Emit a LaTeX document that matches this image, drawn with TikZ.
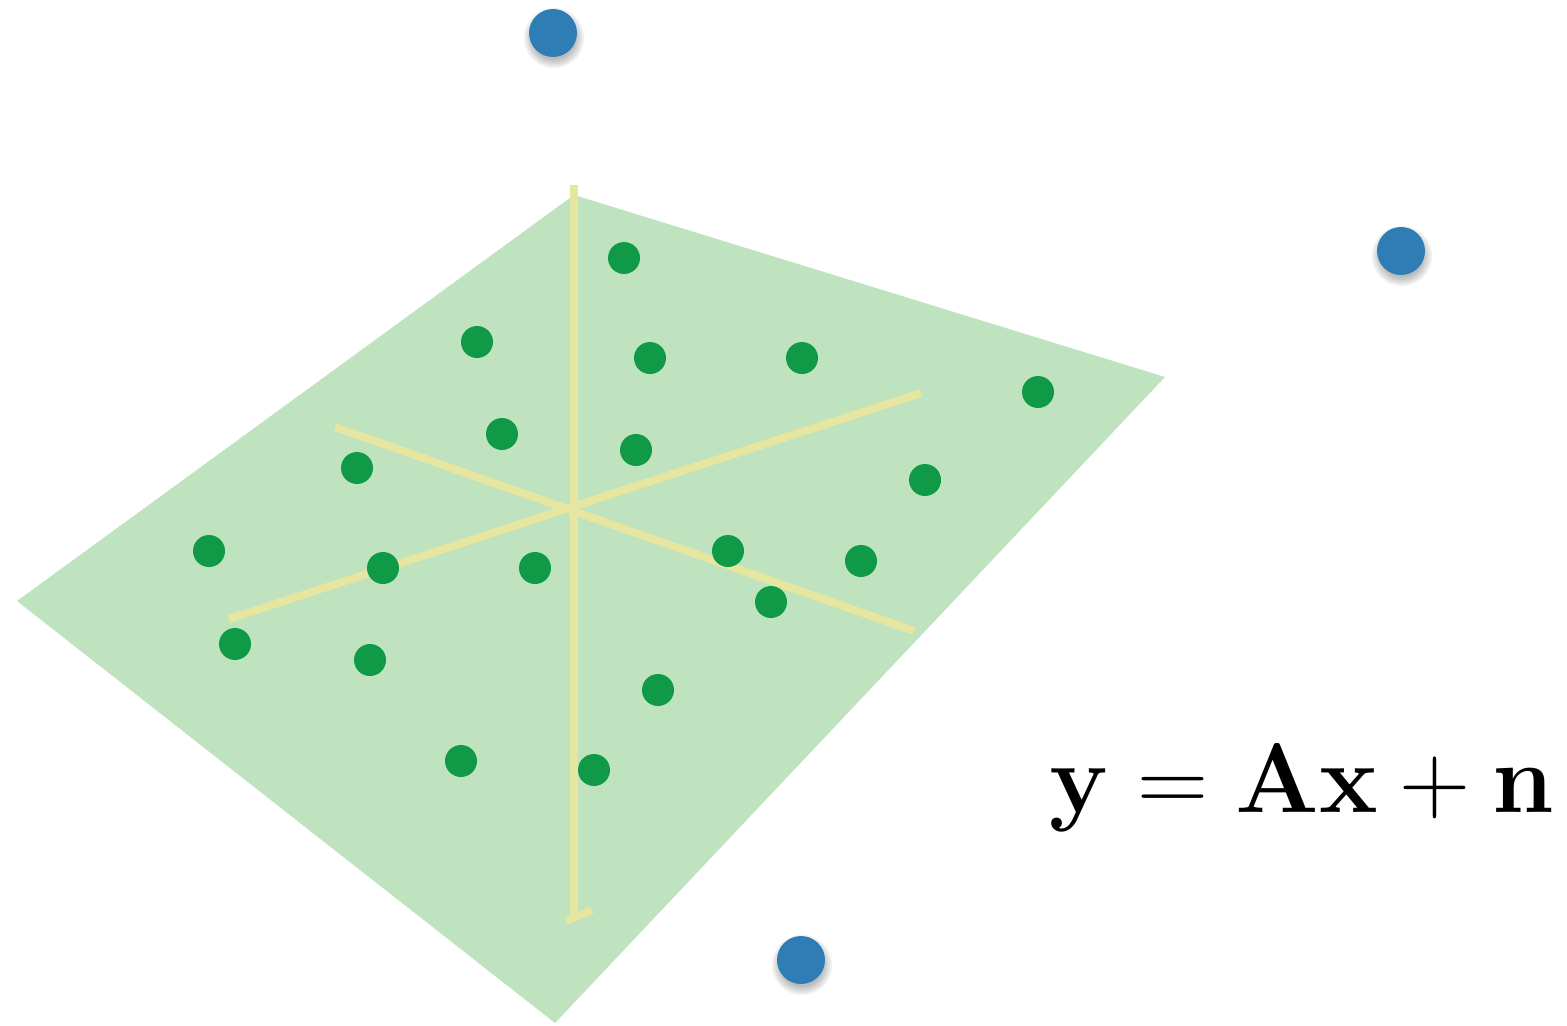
\documentclass[tikz,border=0pt]{standalone}
\definecolor{planeC}{HTML}{BEE3BE}
\definecolor{axisC}{HTML}{E6E6A0}
\definecolor{gdotC}{HTML}{109A48}
\definecolor{bdotC}{HTML}{2E7DB5}
\begin{document}
\begin{tikzpicture}[x=0.02cm,y=-0.02cm,
  gdot/.style={circle,fill=gdotC,inner sep=0pt,minimum size=0.64cm},
  bdot/.style={circle,fill=bdotC,inner sep=0pt,minimum size=0.96cm},
  axisline/.style={draw=axisC,line width=4.5pt}]
\useasboundingbox (0,0) rectangle (1567,1025);
% plane
\fill[planeC] (574,195) -- (1165,377) -- (555,1023) -- (17,601) -- cycle;
% axes
\coordinate (vt) at (574,185);
\coordinate (vb) at (574,916);
\coordinate (cb1) at (566,921);
\coordinate (cb2) at (592,910);
\coordinate (a1) at (335,427);
\coordinate (a2) at (914,631);
\coordinate (b1) at (229,619);
\coordinate (b2) at (921,393);
\draw[axisline] (a1) -- (a2);
\draw[axisline] (b1) -- (b2);
\draw[axisline] (vt) -- (vb);
\draw[axisline] (cb1) -- (cb2);
% green dots
\foreach \n/\x/\y in {1/624/258,2/477/342,3/650/358,4/802/358,5/1038/392,6/502/434,7/636/450,8/357/468,9/925/480,10/209/551,11/383/568,12/535/568,13/728/551,14/861/561,15/771/602,16/235/644,17/370/660,18/658/690,19/461/761,20/594/770}
  \node[gdot] (g\n) at (\x,\y) {};
% blue dots with soft shadows
\foreach \n/\x/\y in {1/553/33,2/1401/251,3/801/960}{
  \foreach \r in {30,28,26,24,22}
    \fill[black,opacity=0.06] (\x+1,\y+5) circle[radius=\r];
  \node[bdot] (p\n) at (\x,\y) {};
}
% equation
\node[anchor=base,inner sep=0pt,scale=2.256] (eq) at (1302,812)
  {\fontsize{56}{60}\selectfont $\mathbf{y}=\mathbf{A}\mathbf{x}+\mathbf{n}$};
\end{tikzpicture}
\end{document}
